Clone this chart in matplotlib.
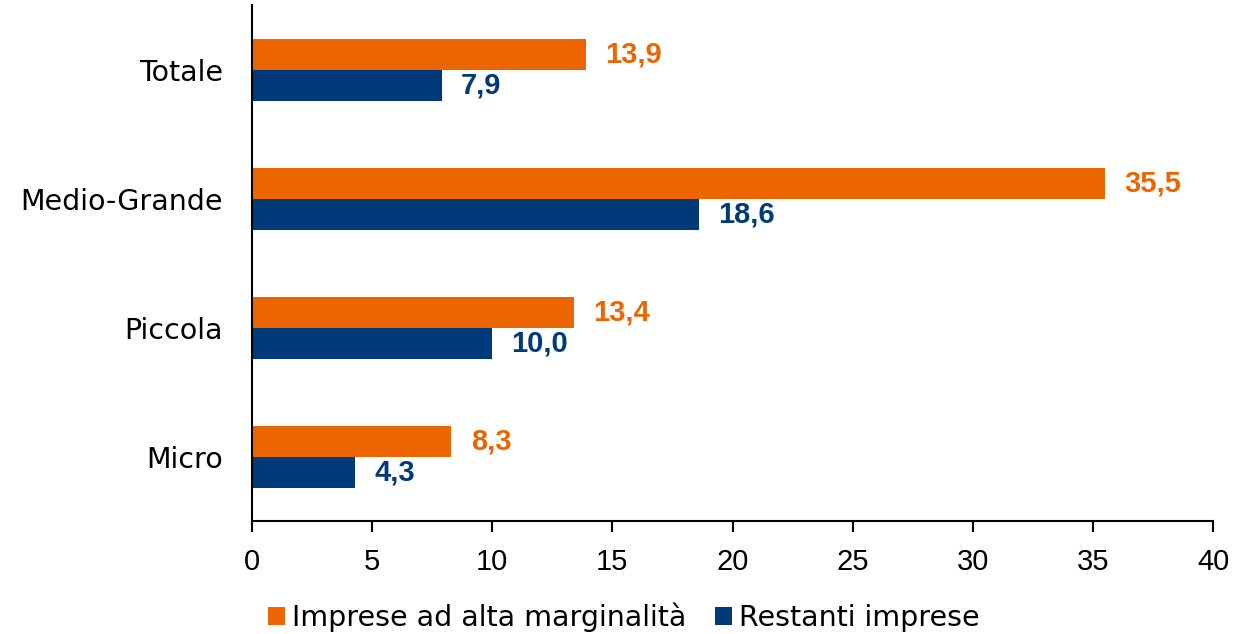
import matplotlib.pyplot as plt
import numpy as np

categorie = ["Micro", "Piccola", "Medio-Grande", "Totale"]
alta_marginalita = [8.3, 13.4, 35.5, 13.9]
restanti = [4.3, 10.0, 18.6, 7.9]
serie = ["Imprese ad alta marginalità", "Restanti imprese"]
x_ticks = [0, 5, 10, 15, 20, 25, 30, 35, 40]

arancio = "#EC6500"
blu = "#003A78"

plt.rcParams['font.family'] = ['DejaVu Sans']

fig = plt.figure(figsize=(12.33, 6.34), dpi=100)
ax = fig.add_axes([0.2044, 0.178, 0.7794, 0.814])

y = np.arange(len(categorie))
h = 0.24
ax.barh(y + h / 2, alta_marginalita, height=h, color=arancio, label=serie[0])
ax.barh(y - h / 2, restanti, height=h, color=blu, label=serie[1])

# etichette dei valori
for yi, v in zip(y, alta_marginalita):
    ax.text(v + 0.8, yi + h / 2, "{:.1f}".format(v).replace(".", ","),
            va="center", ha="left", color=arancio, fontsize=21,
            fontweight="bold", family="Liberation Sans")
for yi, v in zip(y, restanti):
    ax.text(v + 0.8, yi - h / 2, "{:.1f}".format(v).replace(".", ","),
            va="center", ha="left", color=blu, fontsize=21,
            fontweight="bold", family="Liberation Sans")

ax.set_xlim(0, 40)
ax.set_ylim(-0.5, 3.5)
ax.set_xticks(x_ticks)
ax.set_yticks(y)
ax.set_yticklabels(categorie)
ax.tick_params(axis="x", labelsize=21, length=8, width=1.5, pad=11, color="black")
ax.tick_params(axis="y", labelsize=20.5, length=0, pad=21)
for lab in ax.get_xticklabels():
    lab.set_family("Liberation Sans")

for s in ["top", "right"]:
    ax.spines[s].set_visible(False)
ax.spines["left"].set_linewidth(1.5)
ax.spines["bottom"].set_linewidth(1.5)

fig.legend(loc="lower center", ncol=2, frameon=False, fontsize=20.5,
           bbox_to_anchor=(0.506, -0.037), handlelength=0.6, handleheight=0.6,
           handletextpad=0.25, columnspacing=1.0)

fig.savefig("out.png", dpi=100)
